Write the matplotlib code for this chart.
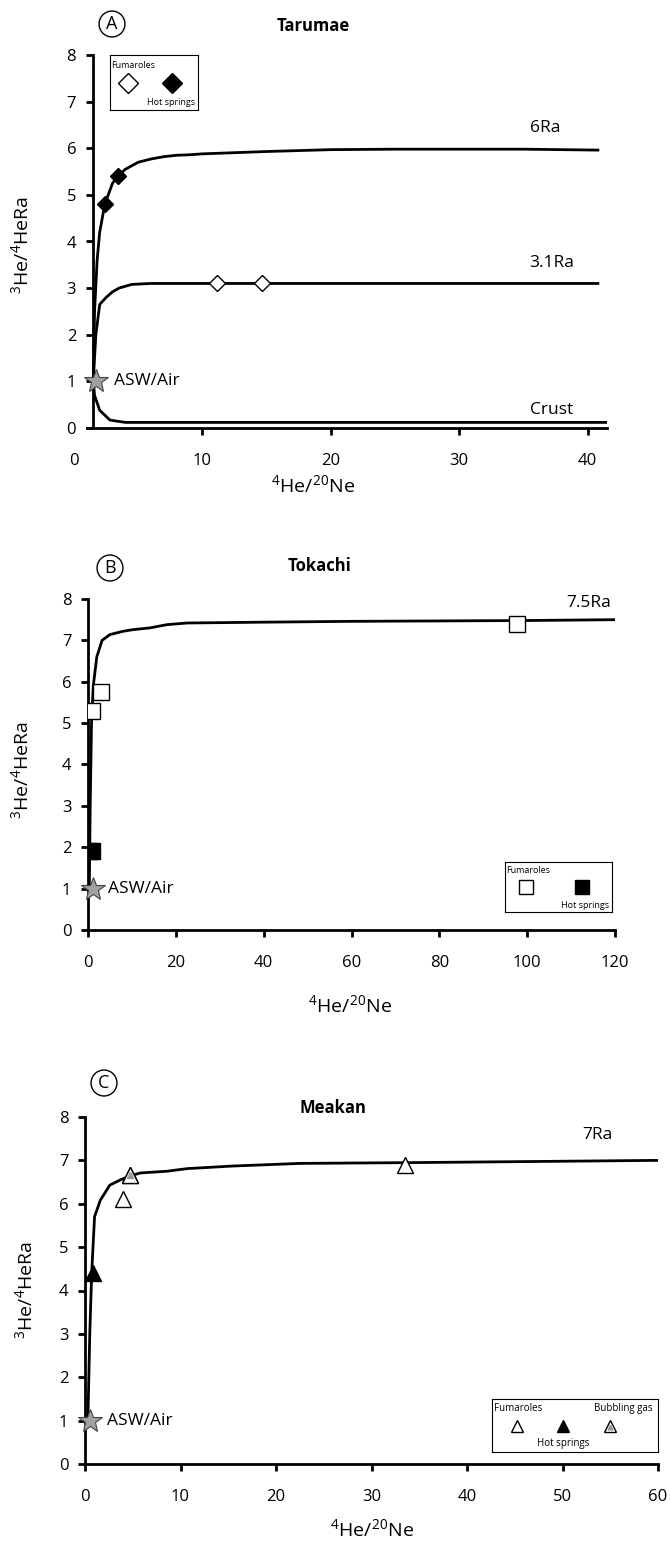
import matplotlib
matplotlib.use("Agg")
import matplotlib.pyplot as plt

plt.rcParams['font.family'] = ['Open Sans', 'DejaVu Sans']
plt.rcParams['mathtext.fontset'] = 'custom'
plt.rcParams['mathtext.rm'] = 'Open Sans'

# Panel A - Tarumae
ra6_x = [1.5, 1.6, 1.8, 2.0, 2.4, 3.0, 3.4, 4, 5, 6, 7, 8, 9, 10, 12, 15, 20, 25, 30, 35, 40.9]
ra6_y = [1.0, 2.5, 3.6, 4.2, 4.8, 5.25, 5.4, 5.55, 5.7, 5.77, 5.82, 5.85, 5.86, 5.88, 5.9, 5.93,
         5.97, 5.98, 5.98, 5.98, 5.96]
ra31_x = [1.5, 1.7, 2.0, 2.5, 3.0, 3.5, 4.5, 6, 10, 20, 30, 40.9]
ra31_y = [1.0, 2.0, 2.65, 2.8, 2.92, 3.0, 3.08, 3.1, 3.1, 3.1, 3.1, 3.1]
crust_x = [1.5, 1.6, 2.0, 2.8, 4.0, 10, 20, 30, 41.5]
crust_y = [1.0, 0.7, 0.38, 0.17, 0.12, 0.12, 0.12, 0.12, 0.12]
fum_a_x = [11.1, 14.6]
fum_a_y = [3.1, 3.1]
hot_a_x = [2.4, 3.4]
hot_a_y = [4.8, 5.4]
air_a = (1.7, 1.0)

# Panel B - Tokachi
ra75_x = [0.3, 0.5, 0.8, 1.2, 2, 3.2, 5, 8, 10.3, 14, 18, 22.5, 40, 60, 80, 100, 120]
ra75_y = [1.0, 3.0, 5.0, 5.9, 6.6, 7.0, 7.14, 7.22, 7.26, 7.3, 7.38, 7.42, 7.44, 7.46, 7.47, 7.48, 7.5]
fum_b_x = [0.9, 2.9, 97.7]
fum_b_y = [5.3, 5.75, 7.4]
hot_b_x = [0.3, 0.9]
hot_b_y = [1.9, 1.9]
air_b = (1.2, 1.0)

# Panel C - Meakan
ra7_x = [0.3, 0.5, 0.7, 1.0, 1.6, 2.6, 3.7, 4.7, 5.8, 8.6, 10.7, 15.5, 22.5, 35, 45, 60]
ra7_y = [1.0, 3.0, 4.4, 5.7, 6.08, 6.43, 6.55, 6.64, 6.71, 6.75, 6.81, 6.87, 6.93, 6.95, 6.97, 7.0]
fum_c_x = [4.0, 4.7, 33.5]
fum_c_y = [6.1, 6.66, 6.9]
hot_c_x = [0.85]
hot_c_y = [4.4]
bub_c_x = [4.7]
bub_c_y = [6.66]
air_c = (0.5, 1.0)

W, H = 670, 1548
fig = plt.figure(figsize=(W / 100, H / 100), dpi=100)


def px_axes(x0, x1, y0, y1):
    # pixel box (left, right, top, bottom) -> figure fraction
    return fig.add_axes([x0 / W, 1 - y1 / H, (x1 - x0) / W, (y1 - y0) / H])


def style(ax, xlim, xticks, box, xlab, ylab):
    ax.set_xlim(*xlim)
    ax.set_ylim(0, 8)
    ax.set_xticks(xticks)
    ax.set_yticks(range(9))
    for s in ['top', 'right']:
        ax.spines[s].set_visible(False)
    for s in ['left', 'bottom']:
        ax.spines[s].set_linewidth(2)
    ax.tick_params(direction='out', length=5, width=2, labelsize=12)
    ax.tick_params(axis='x', pad=13)
    ax.tick_params(axis='y', pad=7)
    ax.set_xlabel(r'$^{4}$He/$^{20}$Ne', fontsize=14)
    ax.set_ylabel(r'$^{3}$He/$^{4}$HeRa', fontsize=14)
    x0, x1, y0, y1 = box
    # label centres given in pixels
    ax.xaxis.set_label_coords((xlab[0] - x0) / (x1 - x0), (y1 - xlab[1]) / (y1 - y0))
    ax.yaxis.set_label_coords((ylab[0] - x0) / (x1 - x0), (y1 - ylab[1]) / (y1 - y0))
    ax.xaxis.label.set_va('center')
    ax.yaxis.label.set_va('center')
    ax.patch.set_alpha(0)


def air(ax, pt, dx):
    ax.plot(*pt, marker='*', ms=18, mfc='#a0a0a0', mec='#444444', mew=0.8, zorder=5, clip_on=False)
    ax.text(pt[0] + dx, pt[1], 'ASW/Air', fontsize=12.5, va='center', ha='left')


def panel_tag(x, y, letter, title, tx, ty):
    fig.text(x / W, 1 - y / H, letter, fontsize=13, ha='center', va='center',
             bbox=dict(boxstyle='circle,pad=0.22', fc='white', ec='black', lw=1))
    fig.text(tx / W, 1 - ty / H, title, fontsize=12, fontweight='bold', ha='center', va='center')


line_kw = dict(color='black', lw=2, solid_capstyle='butt')

# ---------- A ----------
boxA = (74, 607, 55, 428)
axA = px_axes(*boxA)
style(axA, (0, 41.5), [0, 10, 20, 30, 40], boxA, (313, 486), (22, 245))
axA.spines['left'].set_position(('data', 1.47))
axA.spines['bottom'].set_bounds(1.05, 41.5)
axA.xaxis.get_major_ticks()[0].tick1line.set_visible(False)
axA.plot(ra6_x, ra6_y, **line_kw)
axA.plot(ra31_x, ra31_y, **line_kw)
axA.plot(crust_x, crust_y, **line_kw)
axA.plot(fum_a_x, fum_a_y, 'D', ms=8, mfc='white', mec='black', mew=1, zorder=4)
axA.plot(hot_a_x, hot_a_y, 'D', ms=8, mfc='black', mec='black', zorder=4)
air(axA, air_a, 1.4)
axA.text(36.7, 6.35, '6Ra', fontsize=12.5, ha='center')
axA.text(37.2, 3.45, '3.1Ra', fontsize=12.5, ha='center')
axA.text(37.2, 0.3, 'Crust', fontsize=12.5, ha='center')
panel_tag(112, 24, 'A', 'Tarumae', 313, 26)

legA = px_axes(110, 198, 55, 110)
legA.set_xticks([])
legA.set_yticks([])
legA.set_xlim(0, 1)
legA.set_ylim(0, 1)
legA.plot(0.2, 0.5, 'D', ms=10, mfc='white', mec='black', mew=1)
legA.plot(0.7, 0.5, 'D', ms=10, mfc='black', mec='black')
legA.text(0.01, 0.9, 'Fumaroles', fontsize=6.5, va='top')
legA.text(0.97, 0.05, 'Hot springs', fontsize=6.5, ha='right', va='bottom')

# ---------- B ----------
boxB = (88, 615, 599, 930)
axB = px_axes(*boxB)
style(axB, (0, 120), range(0, 121, 20), boxB, (350, 1006), (22, 770))
axB.plot(ra75_x, ra75_y, **line_kw)
axB.errorbar(fum_b_x, fum_b_y, yerr=[0, 0, 0.2], fmt='s', ms=11, mfc='white', mec='black',
             mew=1, ecolor='black', elinewidth=1, zorder=4)
axB.plot(hot_b_x, hot_b_y, 's', ms=11, mfc='black', mec='black', zorder=4)
air(axB, air_b, 3.3)
axB.text(114, 7.8, '7.5Ra', fontsize=12.5, ha='center')
panel_tag(110, 568, 'B', 'Tokachi', 320, 566)

legB = px_axes(505, 612, 862, 912)
legB.set_xticks([])
legB.set_yticks([])
legB.set_xlim(0, 1)
legB.set_ylim(0, 1)
legB.plot(0.2, 0.5, 's', ms=10, mfc='white', mec='black', mew=1)
legB.plot(0.72, 0.5, 's', ms=10, mfc='black', mec='black')
legB.text(0.01, 0.92, 'Fumaroles', fontsize=6.5, va='top')
legB.text(0.97, 0.05, 'Hot springs', fontsize=6.5, ha='right', va='bottom')

# ---------- C ----------
boxC = (85, 658, 1117, 1464)
axC = px_axes(*boxC)
style(axC, (0, 60), range(0, 61, 10), boxC, (372, 1530), (26, 1290))
axC.plot(ra7_x, ra7_y, **line_kw)
axC.plot(fum_c_x, fum_c_y, '^', ms=12, mfc='white', mec='black', mew=1, zorder=4)
axC.plot(hot_c_x, hot_c_y, '^', ms=12, mfc='black', mec='black', zorder=4)
axC.plot(bub_c_x, bub_c_y, '^', ms=12, mfc='white', mec='black', mew=1, zorder=5)
axC.plot(bub_c_x, bub_c_y, '^', ms=4, mfc='#999999', mec='#999999', zorder=6)
air(axC, air_c, 1.8)
axC.text(53.7, 7.5, '7Ra', fontsize=12.5, ha='center')
panel_tag(104, 1083, 'C', 'Meakan', 333, 1108)

legC = px_axes(492, 658, 1399, 1452)
legC.set_xticks([])
legC.set_yticks([])
legC.set_xlim(0, 1)
legC.set_ylim(0, 1)
legC.plot(0.15, 0.5, '^', ms=9, mfc='white', mec='black', mew=1)
legC.plot(0.43, 0.5, '^', ms=9, mfc='black', mec='black')
legC.plot(0.71, 0.5, '^', ms=9, mfc='white', mec='black', mew=1)
legC.plot(0.71, 0.47, '^', ms=3.5, mfc='#999999', mec='#999999')
legC.text(0.01, 0.92, 'Fumaroles', fontsize=7, va='top')
legC.text(0.97, 0.92, 'Bubbling gas', fontsize=7, ha='right', va='top')
legC.text(0.43, 0.05, 'Hot springs', fontsize=7, ha='center', va='bottom')

fig.savefig('out.png', dpi=100)
